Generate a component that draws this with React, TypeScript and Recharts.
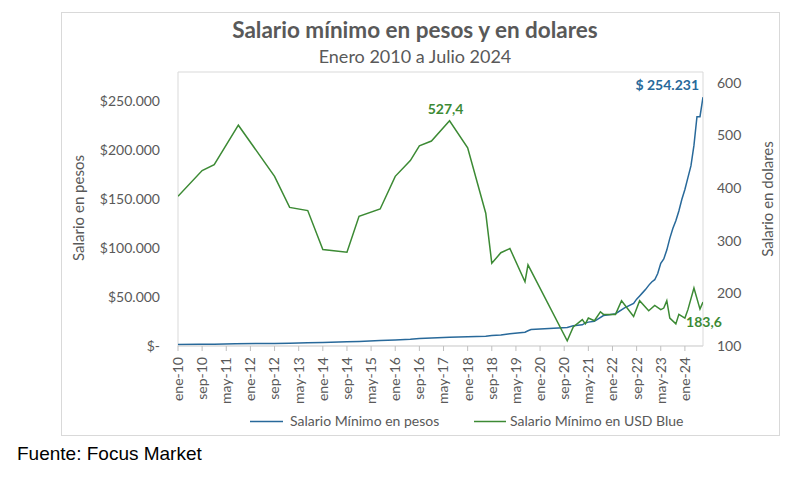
import React from 'react';
import { LineChart, Line, XAxis, YAxis, ReferenceArea, LabelList } from 'recharts';

// month index 0 = ene-10, 174 = jul-24
const MONTH_NAMES = ['ene', 'feb', 'mar', 'abr', 'may', 'jun', 'jul', 'ago', 'sep', 'oct', 'nov', 'dic'];
const TICK_MONTHS = [0, 8, 16, 24, 32, 40, 48, 56, 64, 72, 80, 88, 96, 104, 112, 120, 128, 136, 144, 152, 160, 168];

// Salario mínimo en pesos
const PESOS_MONTHS = [
  0, 7, 12, 19, 32, 37, 43, 48, 56, 60, 67, 72, 77, 80, 84, 90, 96, 102, 104, 107, 110, 115, 116, 117,
  129, 131, 134, 135, 136, 138, 141, 143, 145, 148, 151, 152, 153, 154, 155, 156, 157, 158, 159, 160,
  161, 162, 163, 164, 165, 166, 167, 168, 169, 170, 171, 172, 173, 174,
];
const PESOS_VALUES = [
  1500, 1740, 1840, 2300, 2670, 2875, 3300, 3600, 4400, 4716, 5588, 6060, 6810, 7560, 8060, 8860, 9500,
  10000, 10700, 11300, 12500, 14125, 15625, 16875, 18900, 20588, 21600, 23544, 24408, 25272, 31104, 32000,
  33000, 38940, 43500, 47850, 51200, 54550, 57900, 61953, 65427, 67743, 74000, 84512, 89000, 98000,
  110000, 120000, 128000, 138000, 150000, 160000, 172000, 184000, 205000, 234315, 234315, 254231,
];

// Salario mínimo en USD blue
const USD_MONTHS = [
  0, 8, 12, 20, 32, 37, 43, 48, 56, 60, 67, 72, 77, 80, 84, 90, 96, 102, 104, 107, 110, 115, 116,
  129, 131, 134, 135, 136, 138, 140, 141, 145, 147, 151, 153, 156, 158, 160, 161, 162, 163, 165, 166,
  168, 169, 171, 173, 174,
];
const USD_VALUES = [
  384, 433, 444, 519, 422, 363, 357, 283, 278, 346, 360, 422, 452, 480, 489, 527.4, 476, 352, 257, 277,
  285, 222, 254, 110, 136, 150, 142, 153, 148, 165, 160, 160, 186, 156, 186, 167, 177, 169, 172, 186,
  153, 142, 160, 153, 169, 210, 170, 183.6,
];

const BLUE = '#28699a';
const GREEN = '#3c8a34';
const GRAY_TEXT = '#595959';
const FONT = 'Lato, "Open Sans", sans-serif';

function monthLabel(m: number) {
  const y = 10 + Math.floor(m / 12);
  return `${MONTH_NAMES[m % 12]}-${String(y).padStart(2, '0')}`;
}

function fmtPesos(v: number) {
  if (v === 0) return '$-';
  return '$' + v.toLocaleString('de-DE');
}

const rows = (() => {
  const map = new Map<number, { m: number; pesos?: number; usd?: number }>();
  PESOS_MONTHS.forEach((m, i) => {
    map.set(m, { ...(map.get(m) || { m }), pesos: PESOS_VALUES[i] });
  });
  USD_MONTHS.forEach((m, i) => {
    map.set(m, { ...(map.get(m) || { m }), usd: USD_VALUES[i] });
  });
  return Array.from(map.values()).sort((a, b) => a.m - b.m);
})();

const lastIdx = rows.length - 1;
const peakUsd = Math.max(...USD_VALUES);
const peakIdx = rows.findIndex((r) => r.usd === peakUsd);

function XTick(props: any) {
  const { x, y, payload } = props;
  return (
    <text
      x={x}
      y={y}
      dy="0.35em"
      transform={`rotate(-90 ${x} ${y})`}
      textAnchor="end"
      fill={GRAY_TEXT}
      fontSize={14}
      fontFamily={FONT}
    >
      {monthLabel(payload.value)}
    </text>
  );
}

function PesosLabel(props: any) {
  const { x, y, index, value } = props;
  if (index !== lastIdx || value == null) return null;
  return (
    <text x={x - 4} y={y - 7} textAnchor="end" fill={BLUE} fontSize={14} fontWeight={700} fontFamily={FONT}>
      $ {Number(value).toLocaleString('de-DE')}
    </text>
  );
}

function UsdLabel(props: any) {
  const { x, y, index, value } = props;
  if (value == null) return null;
  if (index === peakIdx) {
    return (
      <text x={x - 4} y={y - 12} dy="0.35em" textAnchor="middle" fill={GREEN} fontSize={14} fontWeight={700} fontFamily={FONT}>
        {String(value).replace('.', ',')}
      </text>
    );
  }
  if (index === lastIdx) {
    return (
      <text x={x + 1} y={y + 20} dy="0.35em" textAnchor="middle" fill={GREEN} fontSize={14} fontWeight={700} fontFamily={FONT}>
        {String(value).replace('.', ',')}
      </text>
    );
  }
  return null;
}

export default function App() {
  const tickStyle = { fill: GRAY_TEXT, fontSize: 14, fontFamily: FONT };
  return (
    <div style={{ position: 'absolute', left: 0, top: 0, width: 790, height: 489, background: '#fff' }}>
      <div
        style={{
          position: 'absolute',
          left: 61,
          top: 12,
          width: 719,
          height: 424,
          border: '1px solid #d9d9d9',
          boxSizing: 'border-box',
        }}
      />
      <div
        style={{
          position: 'absolute',
          left: 0,
          width: 830,
          top: 15,
          textAlign: 'center',
          fontFamily: FONT,
          fontWeight: 700,
          fontSize: 22.5,
          lineHeight: '30px',
          color: GRAY_TEXT,
        }}
      >
        Salario mínimo en pesos y en dolares
      </div>
      <div
        style={{
          position: 'absolute',
          left: 0,
          width: 830,
          top: 44,
          textAlign: 'center',
          fontFamily: FONT,
          fontSize: 18,
          lineHeight: '24px',
          color: GRAY_TEXT,
        }}
      >
        Enero 2010 a Julio 2024
      </div>
      <div
        style={{
          position: 'absolute',
          left: 78 - 80,
          top: 208 - 10,
          width: 160,
          textAlign: 'center',
          transform: 'rotate(-90deg)',
          fontFamily: FONT,
          fontSize: 15,
          color: GRAY_TEXT,
          lineHeight: '20px',
        }}
      >
        Salario en pesos
      </div>
      <div
        style={{
          position: 'absolute',
          left: 767 - 80,
          top: 199 - 10,
          width: 160,
          textAlign: 'center',
          transform: 'rotate(-90deg)',
          fontFamily: FONT,
          fontSize: 15,
          color: GRAY_TEXT,
          lineHeight: '20px',
        }}
      >
        Salario en dolares
      </div>

      <div style={{ position: 'absolute', left: 0, top: 0 }}>
        <LineChart width={790} height={489} data={rows} margin={{ top: 72, right: 27, bottom: 93, left: 100 }}>
          <XAxis
            dataKey="m"
            type="number"
            domain={[0, 174]}
            ticks={TICK_MONTHS}
            interval={0}
            allowDataOverflow
            height={50}
            tickSize={5}
            tickMargin={6}
            tickLine={{ stroke: '#bfbfbf' }}
            axisLine={{ stroke: '#d9d9d9' }}
            tick={<XTick />}
          />
          <YAxis
            yAxisId="left"
            orientation="left"
            width={78}
            domain={[0, 280000]}
            ticks={[0, 50000, 100000, 150000, 200000, 250000]}
            interval={0}
            allowDataOverflow
            tickSize={0}
            tickMargin={18}
            axisLine={false}
            tickLine={false}
            tick={tickStyle}
            tickFormatter={fmtPesos}
          />
          <YAxis
            yAxisId="right"
            orientation="right"
            width={60}
            domain={[100, 620]}
            ticks={[100, 200, 300, 400, 500, 600]}
            interval={0}
            allowDataOverflow
            tickSize={0}
            tickMargin={14}
            axisLine={false}
            tickLine={false}
            tick={{ ...tickStyle, textAnchor: 'start' }}
          />
          <ReferenceArea
            yAxisId="left"
            x1={0}
            x2={174}
            y1={0}
            y2={280000}
            fill="none"
            fillOpacity={0}
            stroke="#d9d9d9"
            strokeWidth={1}
          />
          <Line
            yAxisId="left"
            dataKey="pesos"
            type="linear"
            stroke={BLUE}
            strokeWidth={1.5}
            dot={false}
            activeDot={false}
            connectNulls
            isAnimationActive={false}
          >
            <LabelList dataKey="pesos" content={<PesosLabel />} />
          </Line>
          <Line
            yAxisId="right"
            dataKey="usd"
            type="linear"
            stroke={GREEN}
            strokeWidth={1.5}
            dot={false}
            activeDot={false}
            connectNulls
            isAnimationActive={false}
          >
            <LabelList dataKey="usd" content={<UsdLabel />} />
          </Line>
        </LineChart>
      </div>

      {/* legend */}
      <svg style={{ position: 'absolute', left: 0, top: 410 }} width={790} height={24}>
        <line x1={250} x2={283} y1={11.5} y2={11.5} stroke={BLUE} strokeWidth={1.5} />
        <text x={290} y={11.5} dy="0.35em" fill={GRAY_TEXT} fontSize={14} fontFamily={FONT}>
          Salario Mínimo en pesos
        </text>
        <line x1={474} x2={506} y1={11.5} y2={11.5} stroke={GREEN} strokeWidth={1.5} />
        <text x={510} y={11.5} dy="0.35em" fill={GRAY_TEXT} fontSize={14} fontFamily={FONT}>
          Salario Mínimo en USD Blue
        </text>
      </svg>

      <div
        style={{
          position: 'absolute',
          left: 17,
          top: 443,
          fontFamily: '"Liberation Sans", Arial, sans-serif',
          fontSize: 19,
          color: '#000',
        }}
      >
        Fuente: Focus Market
      </div>
    </div>
  );
}
